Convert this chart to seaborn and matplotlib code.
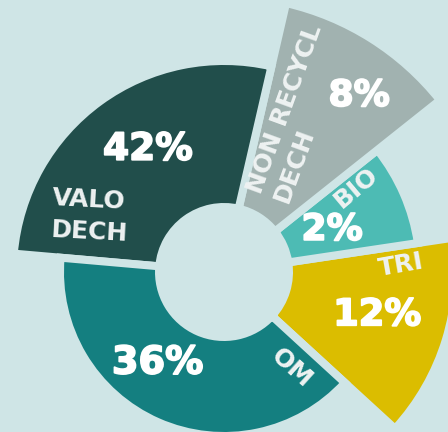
import numpy as np
import matplotlib
matplotlib.use("Agg")
import matplotlib.pyplot as plt
import matplotlib.patheffects as pe
import seaborn as sns

# ---- data ----
categories = ["TRI", "BIO", "NON RECYCL\nDECH", "VALO\nDECH", "OM"]
percents = [12, 2, 8, 42, 36]
pct_labels = [f"{p}%" for p in percents]

# ---- styling / layout ----
colors = ["#dbbd00", "#4dbbb4", "#a1b2b0", "#214e4b", "#147f80"]
bg = "#cfe5e6"
start_deg = -42.5
span_deg = [51, 30, 38.5, 98, 142.5]
outer_px = [228, 192, 272, 207, 160]
hole_px = 69
gap_px = 8

# text placements (angle in degrees, radius in px) and rotations
pct_pos = [(-15.6, 159), (21.3, 116), (52.5, 222), (121.9, 144), (234.1, 113)]
pct_size = [26.5, 26, 26, 27, 27.5]
lab_pos = [(2.3, 177), (32.3, 157), (64.9, 175), (157.3, 145), (-55, 117)]
lab_rot = [10, 40, 70, -3, -42]
lab_ls = [1.2, 1.2, 1.2, 1.4, 1.2]

sns.set_theme(style="white", rc={"axes.facecolor": bg, "figure.facecolor": bg})
plt.rcParams["font.family"] = ["DejaVu Sans"]

W, H = 448, 432
cx, cy = 224, H - 272
rmax = 300
fig = plt.figure(figsize=(W / 100, H / 100), dpi=100, facecolor=bg)
ax = fig.add_axes([(cx - rmax) / W, (cy - rmax) / H, 2 * rmax / W, 2 * rmax / H],
                  projection="polar")
ax.set_facecolor(bg)
ax.set_ylim(0, rmax)

spans = np.array(span_deg)
lefts = start_deg + np.cumsum(spans) - spans
centers = lefts + spans / 2
bottom = hole_px - gap_px / 2
heights = np.array(outer_px) + gap_px / 2 - bottom

ax.bar(np.deg2rad(centers), heights, width=np.deg2rad(spans), bottom=bottom,
       color=colors, edgecolor=bg, linewidth=gap_px * 72 / 100, align="center")

for (a, r), s, fs in zip(pct_pos, pct_labels, pct_size):
    ax.text(np.deg2rad(a), r, s, ha="center", va="center", color="white",
            fontsize=fs, fontweight="bold",
            path_effects=[pe.withStroke(linewidth=1.3, foreground="white")])

for (a, r), s, rot, ls in zip(lab_pos, categories, lab_rot, lab_ls):
    ax.text(np.deg2rad(a), r, s, ha="center", va="center", color="#eef2f2",
            fontsize=18, fontweight="bold", rotation=rot, rotation_mode="anchor",
            multialignment="left", linespacing=ls)

ax.grid(False)
ax.set_xticks([])
ax.set_yticks([])
ax.spines["polar"].set_visible(False)

fig.savefig("out.png", dpi=100, facecolor=bg)
